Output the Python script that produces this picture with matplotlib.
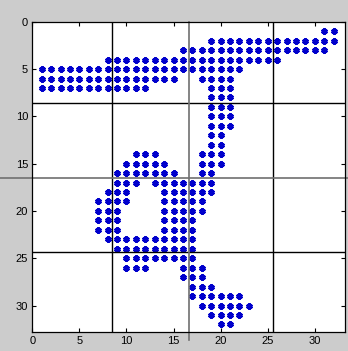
import matplotlib
matplotlib.use("Agg")
import matplotlib.pyplot as plt
import numpy as np

# rows of the image and the column spans that are "on" in each row
rows = list(range(1, 33))
spans = [
    [(31, 32)],
    [(19, 32)],
    [(16, 31)],
    [(8, 26)],
    [(1, 22)],
    [(1, 15), (18, 21)],
    [(1, 12), (19, 21)],
    [(19, 21)],
    [(19, 21)],
    [(19, 21)],
    [(19, 21)],
    [(19, 20)],
    [(19, 20)],
    [(11, 13), (18, 20)],
    [(10, 14), (18, 20)],
    [(9, 15), (18, 19)],
    [(9, 11), (13, 19)],
    [(8, 10), (14, 19)],
    [(7, 10), (14, 18)],
    [(7, 9), (14, 18)],
    [(7, 9), (14, 17)],
    [(7, 9), (14, 17)],
    [(8, 17)],
    [(9, 17)],
    [(10, 17)],
    [(10, 12), (16, 18)],
    [(16, 18)],
    [(17, 19)],
    [(17, 22)],
    [(18, 23)],
    [(19, 22)],
    [(20, 21)],
]

# block dividing lines
hlines_dark = [8.6, 24.3]
vlines_dark = [8.5, 25.6]
hline_gray = 16.5
vline_gray = 16.6

xticks = [0, 5, 10, 15, 20, 25, 30]
yticks = [0, 5, 10, 15, 20, 25, 30]

# build the point list
xs, ys = [], []
for r, sp in zip(rows, spans):
    for a, b in sp:
        for c in range(a, b + 1):
            xs.append(c)
            ys.append(r)

fig = plt.figure(figsize=(3.48, 3.51), dpi=100, facecolor="#cccccc")
ax = fig.add_axes([0.093, 0.054, 0.898, 0.884])
ax.set_facecolor("white")

ax.plot(xs, ys, linestyle="none", marker=(6, 2, 0), markersize=4.6,
        markeredgewidth=1.7, color="#0000cc")

for h in hlines_dark:
    ax.axhline(h, color="black", linewidth=1.0)
for v in vlines_dark:
    ax.axvline(v, color="black", linewidth=1.0)

# the middle lines run past the axes
ax.plot([-3.5, 34], [hline_gray, hline_gray], color="#707070", linewidth=1.2, clip_on=False)
ax.plot([vline_gray, vline_gray], [0, 33.6], color="#707070", linewidth=1.2, clip_on=False)

ax.set_xlim(0, 33.2)
ax.set_ylim(32.8, 0)
ax.set_xticks(xticks)
ax.set_yticks(yticks)
ax.tick_params(direction="in", length=3, width=0.8, top=True, right=True,
               labelsize=8, pad=3)
for lab in ax.get_xticklabels() + ax.get_yticklabels():
    lab.set_family("Liberation Sans")
for s in ax.spines.values():
    s.set_linewidth(0.9)

fig.savefig("out.png", dpi=100, facecolor=fig.get_facecolor())
